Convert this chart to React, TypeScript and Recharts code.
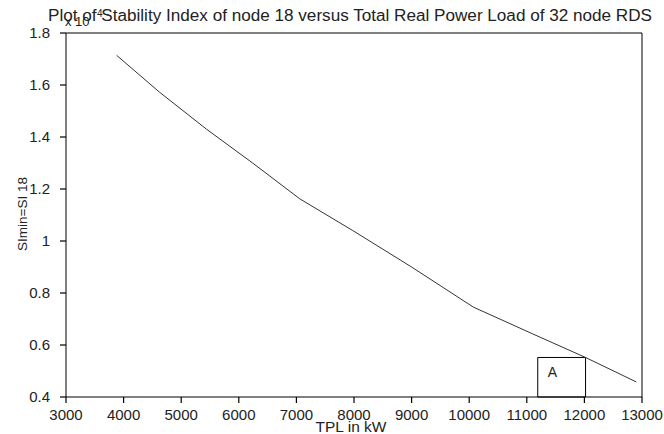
import React from 'react'
import { LineChart, Line, XAxis, YAxis, ReferenceArea } from 'recharts'

// total real power load (kW) vs stability index of node 18 (x 10^-4)
const tplKw = [3880, 4620, 5440, 6240, 7060, 7980, 9000, 10070, 11100, 12020, 12900]
const siNode18 = [1.714, 1.573, 1.43, 1.3, 1.162, 1.04, 0.9, 0.746, 0.643, 0.552, 0.458]

const xTicks = [3000, 4000, 5000, 6000, 7000, 8000, 9000, 10000, 11000, 12000, 13000]
const yTicks = [0.4, 0.6, 0.8, 1, 1.2, 1.4, 1.6, 1.8]

const data = tplKw.map((x, i) => ({ tpl: x, si: siNode18[i] }))

const font = '"Liberation Sans", Arial, sans-serif'
const fmtY = (v: number) => (v === 1 ? '1' : v.toFixed(1))
const TICK = 6

// matlab style ticks: short marks pointing into the box, label outside
const BottomTick = (p: any) => (
  <g>
    <path d={`M${p.x},${p.y - 6}v${-TICK}`} stroke="#000" strokeWidth={1.2} fill="none" />
    <text x={p.x} y={p.y} dy="0.71em" textAnchor="middle" fontSize={15} fontFamily={font} fill="#222">
      {p.payload.value}
    </text>
  </g>
)
const LeftTick = (p: any) => (
  <g>
    <path d={`M${p.x + 10},${p.y}h${TICK}`} stroke="#000" strokeWidth={1.2} fill="none" />
    <text x={p.x} y={p.y} dy="0.355em" textAnchor="end" fontSize={15} fontFamily={font} fill="#222">
      {fmtY(p.payload.value)}
    </text>
  </g>
)
const TopTick = (p: any) => (
  <path d={`M${p.x},${p.y}v${TICK}`} stroke="#000" strokeWidth={1.2} fill="none" />
)
const RightTick = (p: any) => (
  <path d={`M${p.x},${p.y}h${-TICK}`} stroke="#000" strokeWidth={1.2} fill="none" />
)

export default function App() {
  return (
    <div style={{ position: 'absolute', left: 0, top: 0, width: 664, height: 434, background: '#fff' }}>
      <LineChart
        width={664}
        height={434}
        data={data}
        margin={{ top: 0, right: 0, bottom: 0, left: 0 }}
      >
        <XAxis
          dataKey="tpl"
          type="number"
          domain={[3000, 13000]}
          ticks={xTicks}
          height={37}
          stroke="#000"
          tickLine={false}
          tickMargin={6}
          tick={BottomTick}
          interval={0}
        />
        <XAxis
          xAxisId="top"
          orientation="top"
          type="number"
          domain={[3000, 13000]}
          ticks={xTicks}
          height={33}
          stroke="#000"
          tickLine={false}
          tickMargin={0}
          tick={TopTick}
          interval={0}
        />
        <YAxis
          type="number"
          domain={[0.4, 1.8]}
          ticks={yTicks}
          width={66}
          stroke="#000"
          tickLine={false}
          tickMargin={10}
          tick={LeftTick}
          interval={0}
        />
        <YAxis
          yAxisId="right"
          orientation="right"
          type="number"
          domain={[0.4, 1.8]}
          ticks={yTicks}
          width={22}
          stroke="#000"
          tickLine={false}
          tickMargin={0}
          tick={RightTick}
          interval={0}
        />
        <ReferenceArea
          x1={11190}
          x2={12020}
          y1={0.4}
          y2={0.552}
          stroke="#000"
          strokeWidth={1}
          fill="none"
          fillOpacity={0}
          ifOverflow="visible"
          label={{ value: 'A', position: 'insideTopLeft', offset: 10, fill: '#222', fontSize: 14, fontFamily: font }}
        />
        <Line
          type="linear"
          dataKey="si"
          stroke="#333"
          strokeWidth={1}
          dot={false}
          isAnimationActive={false}
        />
        <text x={65} y={26} fontSize={13} fontFamily={font} fill="#222">x 10</text>
        <text x={97} y={17} fontSize={10} fontFamily={font} fill="#222">4</text>
        <text
          x={48}
          y={21}
          fontSize={16}
          fontFamily={font}
          fill="#222"
          textLength={604}
          lengthAdjust="spacingAndGlyphs"
        >
          Plot of Stability Index of node 18 versus Total Real Power Load of 32 node RDS
        </text>
        <text x={351} y={432} textAnchor="middle" fontSize={15.5} fontFamily={font} fill="#222">
          TPL in kW
        </text>
        <text
          x={27}
          y={214}
          textAnchor="middle"
          transform="rotate(-90 27 214)"
          fontSize={13.5}
          fontFamily={font}
          fill="#222"
        >
          SImin=SI 18
        </text>
      </LineChart>
    </div>
  )
}
